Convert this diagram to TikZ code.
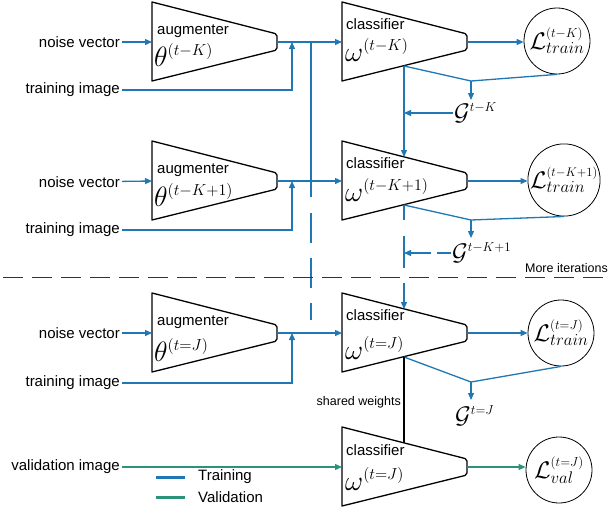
\RequirePackage{fix-cm}
\documentclass[tikz,border=0pt]{standalone}
\usepackage{fontspec}
\setmainfont{Liberation Sans}
\usetikzlibrary{arrows.meta}
\definecolor{trainblue}{HTML}{1F77B4}
\definecolor{valgreen}{HTML}{2A937A}
\newcommand\upidx[2]{\mbox{\fontsize{#1}{#1}\selectfont$#2$}}
\tikzset{
  trapline/.style={draw=black, line width=1.3pt, line join=round},
  trainline/.style={draw=trainblue, line width=1.3pt},
  valline/.style={draw=valgreen, line width=1.3pt},
  flowarrow/.style={-{Triangle[length=7pt,width=6pt]}},
  losscircle/.style={circle, draw, line width=0.8pt, minimum size=66pt, inner sep=0pt, font=\fontsize{24}{26}\selectfont},
  inlabel/.style={anchor=east, inner sep=2pt, font=\fontsize{15}{17}\selectfont},
  blocktext/.style={anchor=base west, inner sep=0pt, font=\fontsize{15}{17}\selectfont},
  blockmath/.style={anchor=base west, inner sep=0pt, font=\fontsize{28}{30}\selectfont},
  gradlabel/.style={anchor=west, inner sep=1pt, font=\fontsize{24}{26}\selectfont},
  smalltext/.style={inner sep=0pt, font=\fontsize{12.5}{14}\selectfont},
}
\begin{document}
\begin{tikzpicture}[x=1pt,y=-1pt]
\useasboundingbox (0,0) rectangle (608,517);
% blocks
\foreach \name/\x/\t in {aug1/152/2, aug2/152/141, aug3/152/293, cls1/342/2, cls2/342/141, cls3/342/293, cls4/342/427} {
  \draw[trapline] (\x,\t) [rounded corners=2pt] -- (\x+125,\t+32) -- (\x+125,\t+48) [sharp corners] -- (\x,\t+79) -- cycle;
  \coordinate (\name-in) at (\x,\t+40);
  \coordinate (\name-out) at (\x+125,\t+40);
  \coordinate (\name-top) at (\x+62,\t+16);
  \coordinate (\name-bot) at (\x+62,\t+64);
}
\node[blocktext] (augtxt1) at (157,34) {augmenter};
\node[blockmath] (theta1) at (154,66) {$\theta^{\upidx{16}{(t{-}K)}}$};
\node[blocktext] (augtxt2) at (157,173) {augmenter};
\node[blockmath] (theta2) at (154,206) {$\theta^{\upidx{16}{(t{-}K{+}1)}}$};
\node[blocktext] (augtxt3) at (157,325) {augmenter};
\node[blockmath] (theta3) at (154,361) {$\theta^{\upidx{16}{(t{=}J)}}$};
\node[blocktext] (clstxt1) at (346,29) {classifier};
\node[blockmath] (omega1) at (345,61) {$\omega^{\upidx{16}{(t{-}K)}}$};
\node[blocktext] (clstxt2) at (346,168) {classifier};
\node[blockmath] (omega2) at (345,201) {$\omega^{\upidx{16}{(t{-}K{+}1)}}$};
\node[blocktext] (clstxt3) at (346,320) {classifier};
\node[blockmath] (omega3) at (345,359) {$\omega^{\upidx{16}{(t{=}J)}}$};
\node[blocktext] (clstxt4) at (346,455) {classifier};
\node[blockmath] (omega4) at (345,490) {$\omega^{\upidx{16}{(t{=}J)}}$};

% inputs
\node[inlabel] (noise1) at (122,42) {noise vector};
\node[inlabel] (train1) at (122,90) {training image};
\node[inlabel] (noise2) at (122,182) {noise vector};
\node[inlabel] (train2) at (122,230) {training image};
\node[inlabel] (noise3) at (122,333) {noise vector};
\node[inlabel] (train3) at (122,383) {training image};
\node[inlabel] (valimg) at (122,467) {validation image};
\coordinate (aug1-mix) at (292,42);
\coordinate (aug2-mix) at (292,181);
\coordinate (aug3-mix) at (292,333);
\foreach \i in {1,2,3} {
  \draw[trainline, flowarrow] (noise\i) -- (aug\i-in);
  \draw[trainline, flowarrow] (train\i) -| (aug\i-mix);
  \draw[trainline, flowarrow] (aug\i-out) -- (cls\i-in);
}
\draw[valline, flowarrow] (valimg) -- (cls4-in);

% line down from the first augmenter
\coordinate (link-top) at (311,42);
\coordinate (link-mid) at (311,197);
\coordinate (link-dash) at (311,213);
\coordinate (link-end) at (311,320);
\draw[trainline] (link-top) -- (link-mid);
\draw[trainline, dash pattern=on 30pt off 15pt] (link-dash) -- (link-end);

% losses
\node[losscircle] (loss1) at (557,41) {$\mathcal{L}^{\upidx{13}{(t{-}K)}}_{train}$};
\node[losscircle] (loss2) at (564,180) {$\mathcal{L}^{\upidx{12.5}{(t{-}K{+}1)}}_{train}$};
\node[losscircle] (loss3) at (561,333) {$\mathcal{L}^{\upidx{13}{(t{=}J)}}_{train}$};
\node[losscircle] (loss4) at (559,470) {$\mathcal{L}^{\upidx{13}{(t{=}J)}}_{val}$};
\draw[trainline, flowarrow] (cls1-out) -- (cls1-out -| loss1.west);
\draw[trainline, flowarrow] (cls2-out) -- (cls2-out -| loss2.west);
\draw[trainline, flowarrow] (cls3-out) -- (cls3-out -| loss3.west);
\draw[valline, flowarrow] (cls4-out) -- (cls4-out -| loss4.west);

% gradients
\coordinate (join1) at (471,81);
\coordinate (join1-end) at (471,100);
\coordinate (join2) at (471,220);
\coordinate (join2-end) at (471,238);
\coordinate (join3) at (471,382);
\coordinate (join3-end) at (471,400);
\node[gradlabel] (grad1) at (453,113) {$\mathcal{G}^{\upidx{13}{t{-}K}}$};
\node[gradlabel] (grad2) at (451,253) {$\mathcal{G}^{\upidx{13}{t{-}K{+}1}}$};
\node[gradlabel] (grad3) at (454,416) {$\mathcal{G}^{\upidx{13}{t{=}J}}$};
\foreach \i in {1,2,3} {
  \draw[trainline] (cls\i-bot) -- (join\i) -- (loss\i.south);
  \draw[trainline, flowarrow] (join\i) -- (join\i-end);
}
\draw[trainline, flowarrow] (grad1.west) -- (grad1.west -| cls1-bot);
\draw[trainline, flowarrow, dash pattern=on 14pt off 6pt on 40pt] (grad2.west) -- (grad2.west -| cls2-bot);
\draw[trainline, flowarrow] (cls1-bot) -- (cls2-top);
\draw[trainline, flowarrow, dash pattern=on 15pt off 16pt on 32pt off 15pt on 40pt] (cls2-bot) -- (cls3-top);
\draw[line width=1.3pt] (cls3-bot) -- (cls4-top);
\node[smalltext, anchor=east] (shared) at (401,402) {shared weights};

% iterations
\coordinate (iter-l) at (3,277);
\coordinate (iter-r) at (608,277);
\draw[black!80, line width=1pt, dash pattern=on 20pt off 9pt] (iter-l) -- (iter-r);
\node[smalltext, anchor=east] (more) at (608,268) {More iterations};

% legend
\coordinate (legT-a) at (156,477);
\coordinate (legT-b) at (185,477);
\coordinate (legV-a) at (156,497);
\coordinate (legV-b) at (185,497);
\draw[trainblue, line width=3pt] (legT-a) -- (legT-b);
\draw[valgreen, line width=3pt] (legV-a) -- (legV-b);
\node[anchor=west, inner sep=0pt, font=\fontsize{15}{17}\selectfont] (legT) at (198,477) {Training};
\node[anchor=west, inner sep=0pt, font=\fontsize{15}{17}\selectfont] (legV) at (198,497) {Validation};
\end{tikzpicture}
\end{document}
